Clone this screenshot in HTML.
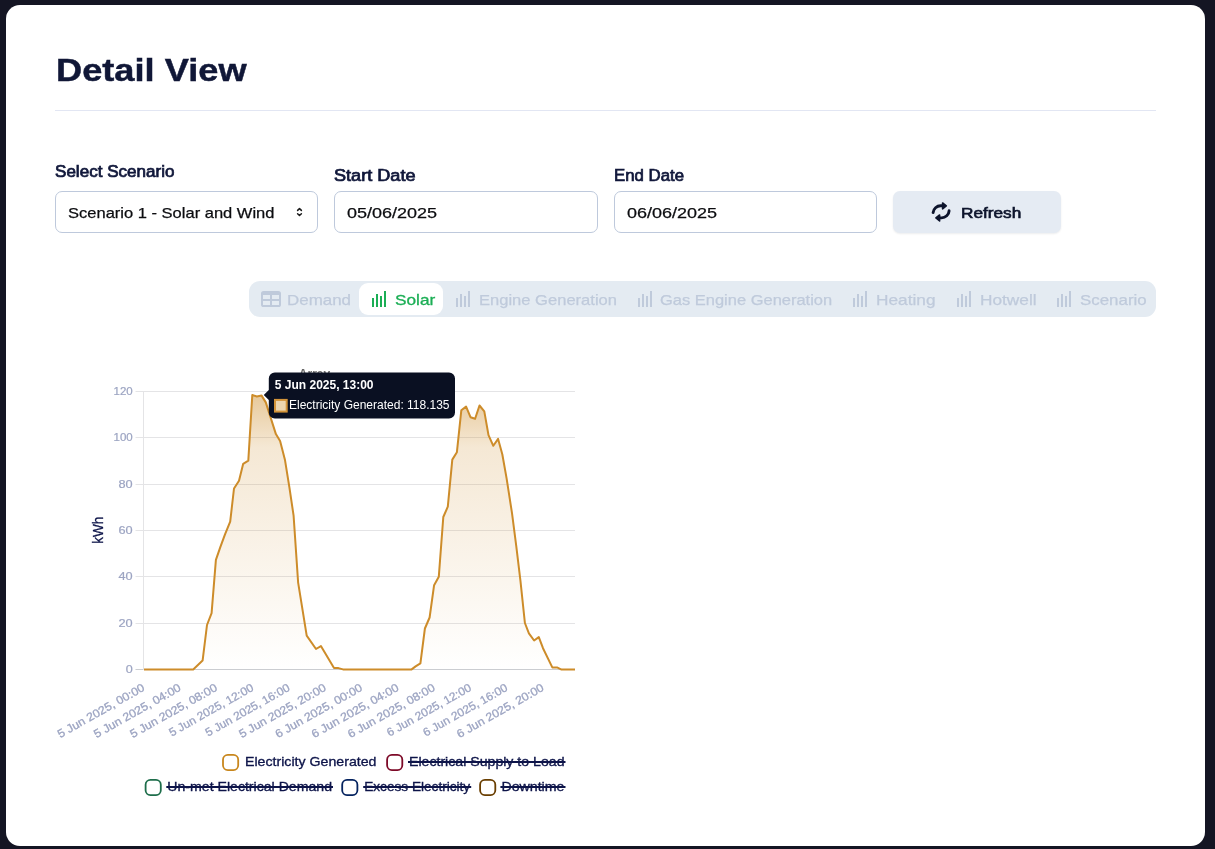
<!DOCTYPE html>
<html lang="en">
<head>
<meta charset="utf-8">
<title>Detail View</title>
<style>
html,body{margin:0;padding:0;}
body{width:1215px;height:849px;overflow:hidden;background:#141523;font-family:"Liberation Sans", sans-serif;position:relative;}
.card{position:absolute;left:6px;top:5px;width:1199px;height:841px;background:#fff;border-radius:14px;}
.t{position:absolute;white-space:pre;line-height:1;transform-origin:0 50%;margin:0;padding:0;}
.abs{position:absolute;box-sizing:border-box;}
hr.rule{position:absolute;left:55px;top:110px;width:1101px;height:1px;border:0;margin:0;background:#e2e6f3;}
.field{position:absolute;box-sizing:border-box;top:191px;height:42px;width:263.5px;border:1px solid #bec9dc;border-radius:7px;background:#fff;}
.btn{position:absolute;box-sizing:border-box;left:893px;top:191px;width:168px;height:42px;border-radius:7px;background:#e5ebf3;box-shadow:0 1px 2px rgba(15,23,42,.08);}
.tabs{position:absolute;left:249px;top:281px;width:907px;height:36px;border-radius:11px;background:#e4ebf2;}
.tab-active{position:absolute;left:359px;top:283px;width:84px;height:32px;border-radius:9px;background:#fff;}
svg{position:absolute;overflow:visible;}
</style>
</head>
<body>
<div class="card">
</div>

<h1 class="t" style="left:55.7px;top:54.7px;font-size:31px;font-weight:700;color:#101737;transform:scaleX(1.1684);-webkit-text-stroke:0.45px #101737;">Detail View</h1>
<hr class="rule">
<label class="t" style="left:54.5px;top:163.5px;font-size:15.6px;color:#10173a;transform:scaleX(1.0941);-webkit-text-stroke:0.7px #10173a;">Select Scenario</label>
<div class="field" style="left:55px;width:263px"></div>
<span class="t" style="left:67.5px;top:205.3px;font-size:15px;color:#0c0d10;transform:scaleX(1.1007);-webkit-text-stroke:0.25px #0c0d10;">Scenario 1 - Solar and Wind</span>
<svg style="left:294.5px;top:206px" width="9" height="12" viewBox="0 0 9 12"><path d="M2.6 4.4 L4.5 2.6 L6.4 4.4 M2.6 7.7 L4.5 9.5 L6.4 7.7" fill="none" stroke="#1a1a1a" stroke-width="1.5" stroke-linejoin="round" stroke-linecap="round"/></svg>
<label class="t" style="left:334.0px;top:167.8px;font-size:15.6px;color:#10173a;transform:scaleX(1.1609);-webkit-text-stroke:0.7px #10173a;">Start Date</label>
<div class="field" style="left:334px;width:264px"></div>
<span class="t" style="left:347.0px;top:205.3px;font-size:15px;color:#0c0d10;transform:scaleX(1.1988);-webkit-text-stroke:0.25px #0c0d10;">05/06/2025</span>
<label class="t" style="left:613.5px;top:167.8px;font-size:15.6px;color:#10173a;transform:scaleX(1.0764);-webkit-text-stroke:0.7px #10173a;">End Date</label>
<div class="field" style="left:614px;width:263px"></div>
<span class="t" style="left:626.5px;top:205.3px;font-size:15px;color:#0c0d10;transform:scaleX(1.1988);-webkit-text-stroke:0.25px #0c0d10;">06/06/2025</span>
<div class="btn"></div>
<svg style="left:925px;top:196px" width="32" height="32" viewBox="0 0 32 32">
<g fill="none" stroke="#0d142c" stroke-width="2.9" stroke-linecap="round" stroke-linejoin="round">
<path d="M8.1 16.6 A7.6 7.6 0 0 1 15.6 9.8 L19 9.8"/>
<path d="M24.1 14.8 A7.6 7.6 0 0 1 16.6 21.9 L13 21.9"/>
</g>
<g fill="#0d142c" stroke="#0d142c" stroke-width="1.6" stroke-linejoin="round">
<path d="M17.6 7 L21.3 9.8 L17.6 12.8 Z"/>
<path d="M14.6 19 L10.9 21.9 L14.6 24.9 Z"/>
</g></svg>
<span class="t" style="left:960.8px;top:205.3px;font-size:15px;color:#0d142c;transform:scaleX(1.1479);-webkit-text-stroke:0.65px #0d142c;">Refresh</span>
<div class="tabs"></div><div class="tab-active"></div>
<svg style="left:261px;top:291px" width="20" height="16" viewBox="0 0 20 16"><path fill="#bfcadb" fill-rule="evenodd" d="M2.6 0H17.4A2.6 2.6 0 0 1 20 2.6V13.4A2.6 2.6 0 0 1 17.4 16H2.6A2.6 2.6 0 0 1 0 13.4V2.6A2.6 2.6 0 0 1 2.6 0Z M2 3.9V8H9V3.9Z M11 3.9V8H18V3.9Z M2 10V14.1H9V10Z M11 10V14.1H18V10Z"/></svg>
<span class="t" style="left:287.3px;top:293.0px;font-size:14.8px;color:#bfcadb;transform:scaleX(1.1441);-webkit-text-stroke:0.25px #bfcadb;">Demand</span>
<svg style="left:372px;top:290px" width="14" height="17" viewBox="0 0 14 17"><path fill="#1bae55" d="M0 8h2v9h-2z M4 4h2v13h-2z M8 6h2v11h-2z M12 1h2v16h-2z"/></svg>
<span class="t" style="left:395.0px;top:293.0px;font-size:14.8px;color:#1bae55;transform:scaleX(1.1636);-webkit-text-stroke:0.3px #1bae55;">Solar</span>
<svg style="left:456px;top:290px" width="14" height="17" viewBox="0 0 14 17"><path fill="#bfcadb" d="M0 8h2v9h-2z M4 4h2v13h-2z M8 6h2v11h-2z M12 1h2v16h-2z"/></svg>
<span class="t" style="left:479.2px;top:293.0px;font-size:14.8px;color:#bfcadb;transform:scaleX(1.1183);-webkit-text-stroke:0.25px #bfcadb;">Engine Generation</span>
<svg style="left:638px;top:290px" width="14" height="17" viewBox="0 0 14 17"><path fill="#bfcadb" d="M0 8h2v9h-2z M4 4h2v13h-2z M8 6h2v11h-2z M12 1h2v16h-2z"/></svg>
<span class="t" style="left:660.3px;top:293.0px;font-size:14.8px;color:#bfcadb;transform:scaleX(1.1134);-webkit-text-stroke:0.25px #bfcadb;">Gas Engine Generation</span>
<svg style="left:853px;top:290px" width="14" height="17" viewBox="0 0 14 17"><path fill="#bfcadb" d="M0 8h2v9h-2z M4 4h2v13h-2z M8 6h2v11h-2z M12 1h2v16h-2z"/></svg>
<span class="t" style="left:876.4px;top:293.0px;font-size:14.8px;color:#bfcadb;transform:scaleX(1.1663);-webkit-text-stroke:0.25px #bfcadb;">Heating</span>
<svg style="left:957px;top:290px" width="14" height="17" viewBox="0 0 14 17"><path fill="#bfcadb" d="M0 8h2v9h-2z M4 4h2v13h-2z M8 6h2v11h-2z M12 1h2v16h-2z"/></svg>
<span class="t" style="left:980.1px;top:293.0px;font-size:14.8px;color:#bfcadb;transform:scaleX(1.1663);-webkit-text-stroke:0.25px #bfcadb;">Hotwell</span>
<svg style="left:1057px;top:290px" width="14" height="17" viewBox="0 0 14 17"><path fill="#bfcadb" d="M0 8h2v9h-2z M4 4h2v13h-2z M8 6h2v11h-2z M12 1h2v16h-2z"/></svg>
<span class="t" style="left:1079.9px;top:293.0px;font-size:14.8px;color:#bfcadb;transform:scaleX(1.1420);-webkit-text-stroke:0.25px #bfcadb;">Scenario</span>
<svg style="left:0;top:0" width="1215" height="849" viewBox="0 0 1215 849" font-family='"Liberation Sans", sans-serif'>
<defs><linearGradient id="g" x1="0" y1="391.5" x2="0" y2="669.5" gradientUnits="userSpaceOnUse"><stop offset="0" stop-color="#cd8c2a" stop-opacity=".49"/><stop offset=".2" stop-color="#cd8c2a" stop-opacity=".2"/><stop offset="1" stop-color="#cd8c2a" stop-opacity="0"/></linearGradient></defs>
<text x="314.5" y="378" font-size="12" font-weight="700" fill="#6a6a6a" text-anchor="middle">Array</text>
<path d="M135.5 391.5H575" stroke="#e4e4e6" stroke-width="1"/>
<path d="M135.5 437.5H575" stroke="#e4e4e6" stroke-width="1"/>
<path d="M135.5 484.5H575" stroke="#e4e4e6" stroke-width="1"/>
<path d="M135.5 530.5H575" stroke="#e4e4e6" stroke-width="1"/>
<path d="M135.5 576.5H575" stroke="#e4e4e6" stroke-width="1"/>
<path d="M135.5 623.5H575" stroke="#e4e4e6" stroke-width="1"/>
<path d="M135.5 669.5H575" stroke="#cbcdd1" stroke-width="1"/>
<path d="M143.5 391V670" stroke="#e4e4e6" stroke-width="1"/>
<text x="132.7" y="394.7" font-size="11.3" fill="#9ca4c2" stroke="#9ca4c2" stroke-width=".2" text-anchor="end" textLength="19.2" lengthAdjust="spacingAndGlyphs">120</text>
<text x="132.7" y="440.7" font-size="11.3" fill="#9ca4c2" stroke="#9ca4c2" stroke-width=".2" text-anchor="end" textLength="19.2" lengthAdjust="spacingAndGlyphs">100</text>
<text x="132.7" y="487.7" font-size="11.3" fill="#9ca4c2" stroke="#9ca4c2" stroke-width=".2" text-anchor="end" textLength="14.2" lengthAdjust="spacingAndGlyphs">80</text>
<text x="132.7" y="533.7" font-size="11.3" fill="#9ca4c2" stroke="#9ca4c2" stroke-width=".2" text-anchor="end" textLength="14.2" lengthAdjust="spacingAndGlyphs">60</text>
<text x="132.7" y="579.7" font-size="11.3" fill="#9ca4c2" stroke="#9ca4c2" stroke-width=".2" text-anchor="end" textLength="14.2" lengthAdjust="spacingAndGlyphs">40</text>
<text x="132.7" y="626.7" font-size="11.3" fill="#9ca4c2" stroke="#9ca4c2" stroke-width=".2" text-anchor="end" textLength="14.2" lengthAdjust="spacingAndGlyphs">20</text>
<text x="132.7" y="672.7" font-size="11.3" fill="#9ca4c2" stroke="#9ca4c2" stroke-width=".2" text-anchor="end" textLength="7.0" lengthAdjust="spacingAndGlyphs">0</text>
<text transform="translate(103.2,530.2) rotate(-90)" font-size="14" fill="#0d1449" stroke="#0d1449" stroke-width=".3" text-anchor="middle" textLength="27" lengthAdjust="spacingAndGlyphs">kWh</text>
<polygon points="144.0,669.4 193.2,669.4 202.6,660.6 207.0,625.0 211.6,613.2 215.9,559.8 220.4,546.9 225.0,534.4 230.2,521.6 234.0,488.5 239.0,480.8 243.2,463.8 248.3,460.6 252.3,395.0 256.8,396.5 261.6,395.6 265.8,402.4 275.9,434.1 280.1,441.0 285.0,460.1 289.4,487.4 293.6,515.7 298.1,582.3 306.7,635.6 316.0,649.0 320.9,646.1 334.0,668.1 338.5,668.1 343.0,669.4 411.6,669.4 415.6,666.4 420.4,663.3 424.9,628.5 429.6,617.5 434.1,585.2 438.8,576.7 443.3,517.0 447.8,506.7 452.3,459.6 456.9,452.2 461.3,410.3 466.1,406.6 470.5,417.2 475.1,418.8 479.5,405.5 484.3,411.4 488.5,435.2 493.3,445.8 498.1,438.9 502.3,454.3 506.6,478.4 512.0,513.1 516.3,546.4 520.4,580.4 524.9,623.0 528.9,633.4 534.1,640.5 538.8,637.1 543.0,648.2 552.3,667.4 557.0,667.4 561.5,669.6 575.0,669.6 575,669.5 144,669.5" fill="url(#g)"/>
<polyline points="144.0,669.4 193.2,669.4 202.6,660.6 207.0,625.0 211.6,613.2 215.9,559.8 220.4,546.9 225.0,534.4 230.2,521.6 234.0,488.5 239.0,480.8 243.2,463.8 248.3,460.6 252.3,395.0 256.8,396.5 261.6,395.6 265.8,402.4 275.9,434.1 280.1,441.0 285.0,460.1 289.4,487.4 293.6,515.7 298.1,582.3 306.7,635.6 316.0,649.0 320.9,646.1 334.0,668.1 338.5,668.1 343.0,669.4 411.6,669.4 415.6,666.4 420.4,663.3 424.9,628.5 429.6,617.5 434.1,585.2 438.8,576.7 443.3,517.0 447.8,506.7 452.3,459.6 456.9,452.2 461.3,410.3 466.1,406.6 470.5,417.2 475.1,418.8 479.5,405.5 484.3,411.4 488.5,435.2 493.3,445.8 498.1,438.9 502.3,454.3 506.6,478.4 512.0,513.1 516.3,546.4 520.4,580.4 524.9,623.0 528.9,633.4 534.1,640.5 538.8,637.1 543.0,648.2 552.3,667.4 557.0,667.4 561.5,669.6 575.0,669.6" fill="none" stroke="#cd8c2a" stroke-width="2" stroke-linejoin="round" stroke-linecap="butt"/>
<text transform="translate(145.5,690.0) rotate(-29.5)" font-size="11.5" fill="#9ca4c2" stroke="#9ca4c2" stroke-width=".3" text-anchor="end" textLength="98" lengthAdjust="spacingAndGlyphs">5 Jun 2025, 00:00</text>
<text transform="translate(181.8,690.0) rotate(-29.5)" font-size="11.5" fill="#9ca4c2" stroke="#9ca4c2" stroke-width=".3" text-anchor="end" textLength="98" lengthAdjust="spacingAndGlyphs">5 Jun 2025, 04:00</text>
<text transform="translate(218.1,690.0) rotate(-29.5)" font-size="11.5" fill="#9ca4c2" stroke="#9ca4c2" stroke-width=".3" text-anchor="end" textLength="98" lengthAdjust="spacingAndGlyphs">5 Jun 2025, 08:00</text>
<text transform="translate(254.4,690.0) rotate(-29.5)" font-size="11.5" fill="#9ca4c2" stroke="#9ca4c2" stroke-width=".3" text-anchor="end" textLength="95" lengthAdjust="spacingAndGlyphs">5 Jun 2025, 12:00</text>
<text transform="translate(290.7,690.0) rotate(-29.5)" font-size="11.5" fill="#9ca4c2" stroke="#9ca4c2" stroke-width=".3" text-anchor="end" textLength="95" lengthAdjust="spacingAndGlyphs">5 Jun 2025, 16:00</text>
<text transform="translate(327.0,690.0) rotate(-29.5)" font-size="11.5" fill="#9ca4c2" stroke="#9ca4c2" stroke-width=".3" text-anchor="end" textLength="98" lengthAdjust="spacingAndGlyphs">5 Jun 2025, 20:00</text>
<text transform="translate(363.3,690.0) rotate(-29.5)" font-size="11.5" fill="#9ca4c2" stroke="#9ca4c2" stroke-width=".3" text-anchor="end" textLength="98" lengthAdjust="spacingAndGlyphs">6 Jun 2025, 00:00</text>
<text transform="translate(399.6,690.0) rotate(-29.5)" font-size="11.5" fill="#9ca4c2" stroke="#9ca4c2" stroke-width=".3" text-anchor="end" textLength="98" lengthAdjust="spacingAndGlyphs">6 Jun 2025, 04:00</text>
<text transform="translate(435.9,690.0) rotate(-29.5)" font-size="11.5" fill="#9ca4c2" stroke="#9ca4c2" stroke-width=".3" text-anchor="end" textLength="98" lengthAdjust="spacingAndGlyphs">6 Jun 2025, 08:00</text>
<text transform="translate(472.2,690.0) rotate(-29.5)" font-size="11.5" fill="#9ca4c2" stroke="#9ca4c2" stroke-width=".3" text-anchor="end" textLength="95" lengthAdjust="spacingAndGlyphs">6 Jun 2025, 12:00</text>
<text transform="translate(508.5,690.0) rotate(-29.5)" font-size="11.5" fill="#9ca4c2" stroke="#9ca4c2" stroke-width=".3" text-anchor="end" textLength="95" lengthAdjust="spacingAndGlyphs">6 Jun 2025, 16:00</text>
<text transform="translate(544.8,690.0) rotate(-29.5)" font-size="11.5" fill="#9ca4c2" stroke="#9ca4c2" stroke-width=".3" text-anchor="end" textLength="98" lengthAdjust="spacingAndGlyphs">6 Jun 2025, 20:00</text>
<rect x="223.0" y="754.9" width="15.2" height="15.2" rx="4.8" fill="none" stroke="#c8861c" stroke-width="1.8"/>
<text x="245.0" y="765.8" font-size="12.2" fill="#0d1449" stroke="#0d1449" stroke-width=".3" textLength="131.5" lengthAdjust="spacingAndGlyphs">Electricity Generated</text>
<rect x="387.1" y="754.9" width="15.2" height="15.2" rx="4.8" fill="none" stroke="#7d0a28" stroke-width="1.8"/>
<text x="409.0" y="765.8" font-size="12.2" fill="#0d1449" stroke="#0d1449" stroke-width=".3" textLength="155.5" lengthAdjust="spacingAndGlyphs">Electrical Supply to Load</text>
<path d="M408.0 761.9H565.5" stroke="#0d1449" stroke-width="2"/>
<rect x="145.6" y="779.9" width="15.2" height="15.2" rx="4.8" fill="none" stroke="#1e6e4b" stroke-width="1.8"/>
<text x="167.3" y="791" font-size="12.2" fill="#0d1449" stroke="#0d1449" stroke-width=".3" textLength="164.7" lengthAdjust="spacingAndGlyphs">Un-met Electrical Demand</text>
<path d="M166.3 787.1H333.0" stroke="#0d1449" stroke-width="2"/>
<rect x="342.2" y="779.9" width="15.2" height="15.2" rx="4.8" fill="none" stroke="#05235f" stroke-width="1.8"/>
<text x="364.2" y="791" font-size="12.2" fill="#0d1449" stroke="#0d1449" stroke-width=".3" textLength="106.0" lengthAdjust="spacingAndGlyphs">Excess Electricity</text>
<path d="M363.2 787.1H471.2" stroke="#0d1449" stroke-width="2"/>
<rect x="480.1" y="779.9" width="15.2" height="15.2" rx="4.8" fill="none" stroke="#693e00" stroke-width="1.8"/>
<text x="501.4" y="791" font-size="12.2" fill="#0d1449" stroke="#0d1449" stroke-width=".3" textLength="63.1" lengthAdjust="spacingAndGlyphs">Downtime</text>
<path d="M500.4 787.1H565.5" stroke="#0d1449" stroke-width="2"/>
<path d="M274.8 372.5H449 a6 6 0 0 1 6 6V412.5a6 6 0 0 1 -6 6H274.8a6 6 0 0 1 -6 -6V400L263.8 395L268.8 390V378.5a6 6 0 0 1 6 -6Z" fill="#0a1022"/>
<text x="274.8" y="388.7" font-size="12" font-weight="700" fill="#fff">5 Jun 2025, 13:00</text>
<rect x="275" y="399.9" width="11.7" height="11.7" fill="#edd6b0" stroke="#d3943a" stroke-width="2"/>
<text x="289" y="409.3" font-size="12" fill="#fff">Electricity Generated: 118.135</text>
</svg>
</body></html>
